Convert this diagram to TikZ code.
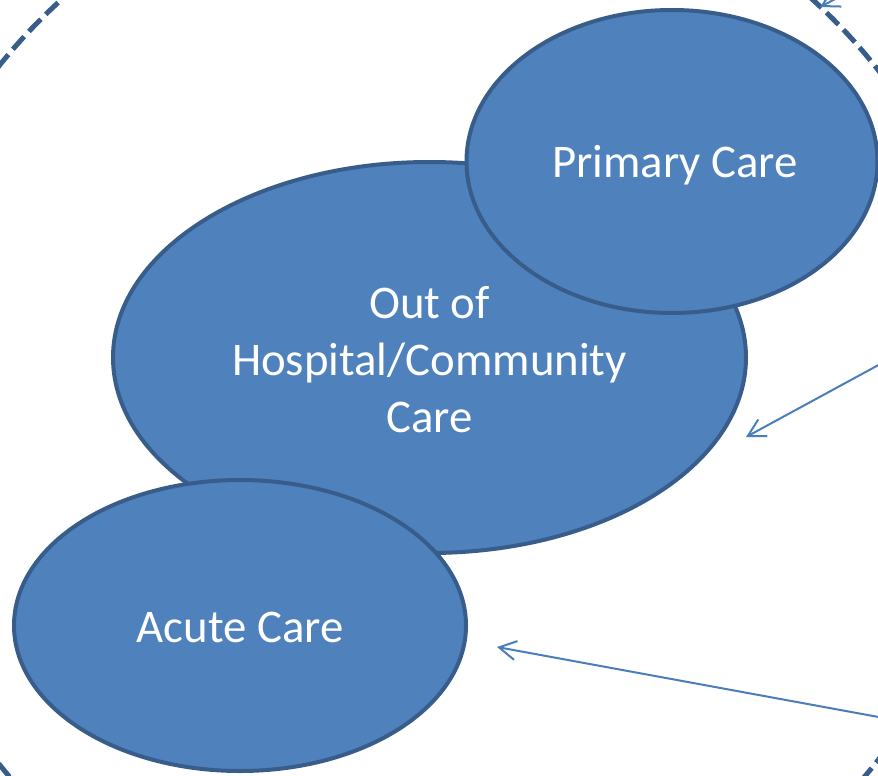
\documentclass[tikz,border=0pt]{standalone}
\usepackage{fontspec}
\setmainfont{Carlito}
\usetikzlibrary{shapes.geometric,arrows.meta}
\definecolor{fillblue}{HTML}{4F81BD}
\definecolor{edgeblue}{HTML}{385D8A}
\definecolor{arrowblue}{HTML}{4A7EBB}
\tikzset{
  bubble/.style={ellipse, draw=edgeblue, fill=fillblue, line width=4pt, inner sep=0pt},
  bubtext/.style={text=white, align=center, inner sep=0pt,
    font=\fontsize{46.8pt}{57pt}\selectfont},
  dashring/.style={draw=edgeblue, line width=5pt, dash pattern=on 17pt off 7pt},
  pointer/.style={draw=arrowblue, line width=2pt,
    -{Straight Barb[length=17pt,width=19pt,line width=2pt]}}
}
\begin{document}
\begin{tikzpicture}[x=1pt,y=-1pt]
\useasboundingbox (0,0) rectangle (878,776);
\clip (0,0) rectangle (878,776);
\fill[white] (0,0) rectangle (878,776);
\coordinate (ringc) at (437,415);
\draw[dashring] (ringc) circle (560pt);
\node[bubble, minimum width=633pt, minimum height=391pt] (ooh) at (429.5,357.5) {};
\node[bubtext] (oohtext) at ([yshift=-2pt]ooh.center) {Out of\\Hospital/Community\\Care};
\node[bubble, minimum width=411pt, minimum height=303pt] (pc) at (672,161.5) {};
\node[bubtext] (pctext) at ([xshift=3pt,yshift=-4pt]pc.center) {Primary Care};
\node[bubble, minimum width=452pt, minimum height=291pt] (ac) at (240,625.5) {};
\node[bubtext] (actext) at ([yshift=-2pt]ac.center) {Acute Care};
\coordinate (s1) at (858,-13);
\coordinate (t1) at (820,7);
\coordinate (s2) at (884,362);
\coordinate (t2) at (746,437);
\coordinate (s3) at (884,718);
\coordinate (t3) at (497,647);
\draw[pointer] (s1) -- (t1);
\draw[pointer] (s2) -- (t2);
\draw[pointer] (s3) -- (t3);
\end{tikzpicture}
\end{document}
